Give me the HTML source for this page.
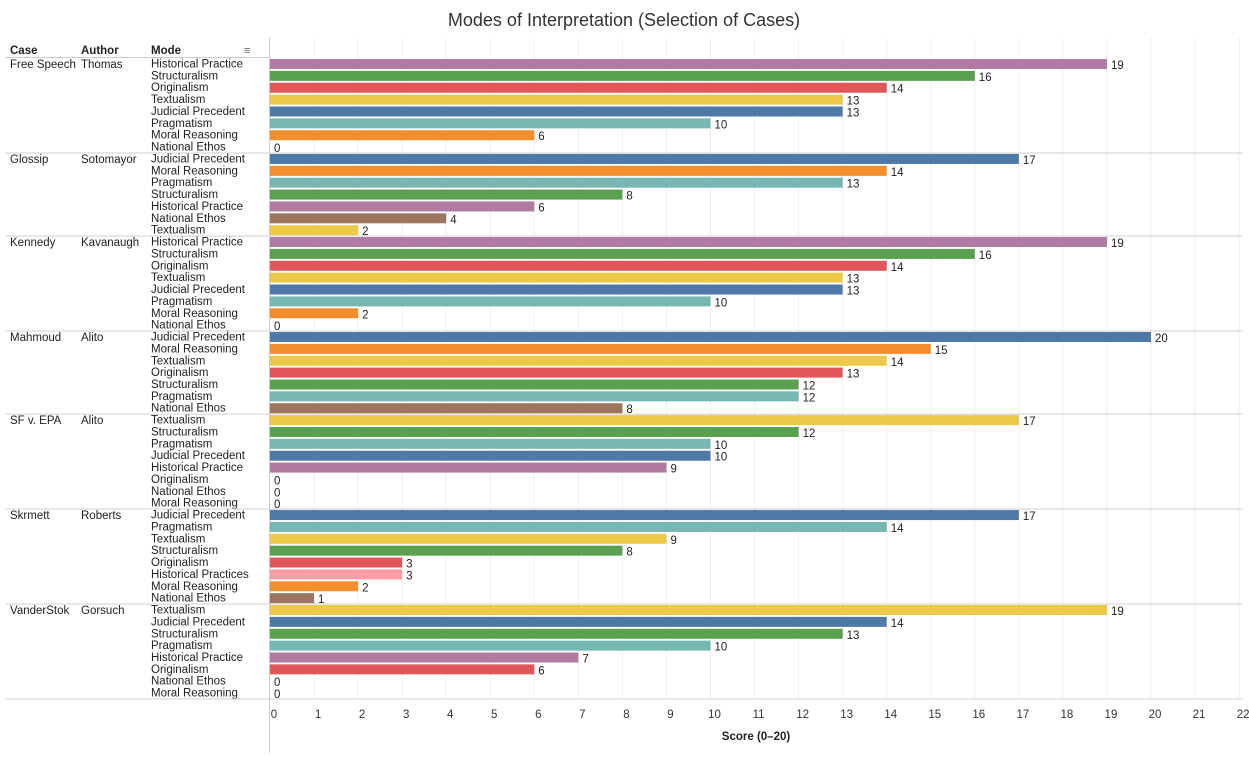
<!DOCTYPE html>
<html><head><meta charset="utf-8"><style>
body{margin:0;background:#fff;font-family:"Liberation Sans","DejaVu Sans",sans-serif;}
svg text{font-family:"Liberation Sans","DejaVu Sans",sans-serif;}
</style></head><body>
<svg id="c" width="1249" height="753"></svg>
<script>
const cases=["Free Speech","Glossip","Kennedy","Mahmoud","SF v. EPA","Skrmett","VanderStok"];
const authors=["Thomas","Sotomayor","Kavanaugh","Alito","Alito","Roberts","Gorsuch"];
const modes=[
["Historical Practice","Structuralism","Originalism","Textualism","Judicial Precedent","Pragmatism","Moral Reasoning","National Ethos"],
["Judicial Precedent","Moral Reasoning","Pragmatism","Structuralism","Historical Practice","National Ethos","Textualism"],
["Historical Practice","Structuralism","Originalism","Textualism","Judicial Precedent","Pragmatism","Moral Reasoning","National Ethos"],
["Judicial Precedent","Moral Reasoning","Textualism","Originalism","Structuralism","Pragmatism","National Ethos"],
["Textualism","Structuralism","Pragmatism","Judicial Precedent","Historical Practice","Originalism","National Ethos","Moral Reasoning"],
["Judicial Precedent","Pragmatism","Textualism","Structuralism","Originalism","Historical Practices","Moral Reasoning","National Ethos"],
["Textualism","Judicial Precedent","Structuralism","Pragmatism","Historical Practice","Originalism","National Ethos","Moral Reasoning"]];
const scores=[
[19,16,14,13,13,10,6,0],
[17,14,13,8,6,4,2],
[19,16,14,13,13,10,2,0],
[20,15,14,13,12,12,8],
[17,12,10,10,9,0,0,0],
[17,14,9,8,3,3,2,1],
[19,14,13,10,7,6,0,0]];
const ticks=[0,1,2,3,4,5,6,7,8,9,10,11,12,13,14,15,16,17,18,19,20,21,22];
const colors={"Historical Practice":"#b07aa1","Structuralism":"#59a14f","Originalism":"#e15759","Textualism":"#edc948","Judicial Precedent":"#4e79a7","Pragmatism":"#76b7b2","Moral Reasoning":"#f28e2b","National Ethos":"#9c755f","Historical Practices":"#ff9da7"};
const svg=document.getElementById('c');const NS="http://www.w3.org/2000/svg";
function el(t,a,txt){const e=document.createElementNS(NS,t);for(const k in a)e.setAttribute(k,a[k]);if(txt!==undefined)e.textContent=txt;svg.appendChild(e);return e;}
const x0=270,px=44.05,topY=58,rowH=11.87,axisY=699;
const x=v=>x0+v*px;
let e;
e=el('text',{x:624,y:26,'text-anchor':'middle','font-size':18,fill:'#333'},'Modes of Interpretation (Selection of Cases)');

[["Case",10],["Author",81],["Mode",151]].forEach(h=>{e=el('text',{x:h[1],y:54,'font-size':11.5,'font-weight':'bold',fill:'#222'},h[0]);
});
e=el('text',{x:244,y:54,'font-size':11,fill:'#666'},'≡');

el('line',{x1:5,y1:57.5,x2:269,y2:57.5,stroke:'#ccc'});
ticks.forEach(t=>{if(t>0){e=el('line',{x1:x(t),y1:38,x2:x(t),y2:axisY,stroke:'#eee'});
}
e=el('text',{x:x(t)+4,y:718,'text-anchor':'middle','font-size':11.5,fill:'#333'},t);
});
let r=0;
cases.forEach((c,g)=>{const gy=topY+r*rowH;
e=el('text',{x:10,y:gy+10,'font-size':11.5,fill:'#222'},c);
e=el('text',{x:81,y:gy+10,'font-size':11.5,fill:'#222'},authors[g]);
modes[g].forEach((m,i)=>{const y=topY+r*rowH;const v=scores[g][i];
e=el('text',{x:151,y:y+9.5,'font-size':11.5,fill:'#222'},m);
if(v>0){e=el('rect',{x:x0,y:y+1,width:x(v)-x0,height:10,fill:colors[m]});}
e=el('text',{x:x(v)+4,y:y+11,'font-size':11.5,fill:'#222'},v);
r++;});
const ly=topY+r*rowH;e=el('line',{x1:5,y1:ly,x2:1243,y2:ly,stroke:'#d0d0d0'});
});
el('line',{x1:269.5,y1:37,x2:269.5,y2:753,stroke:'#ccc'});
e=el('text',{x:756,y:740,'text-anchor':'middle','font-size':11.5,'font-weight':'bold',fill:'#222'},'Score (0–20)');

</script></body></html>
